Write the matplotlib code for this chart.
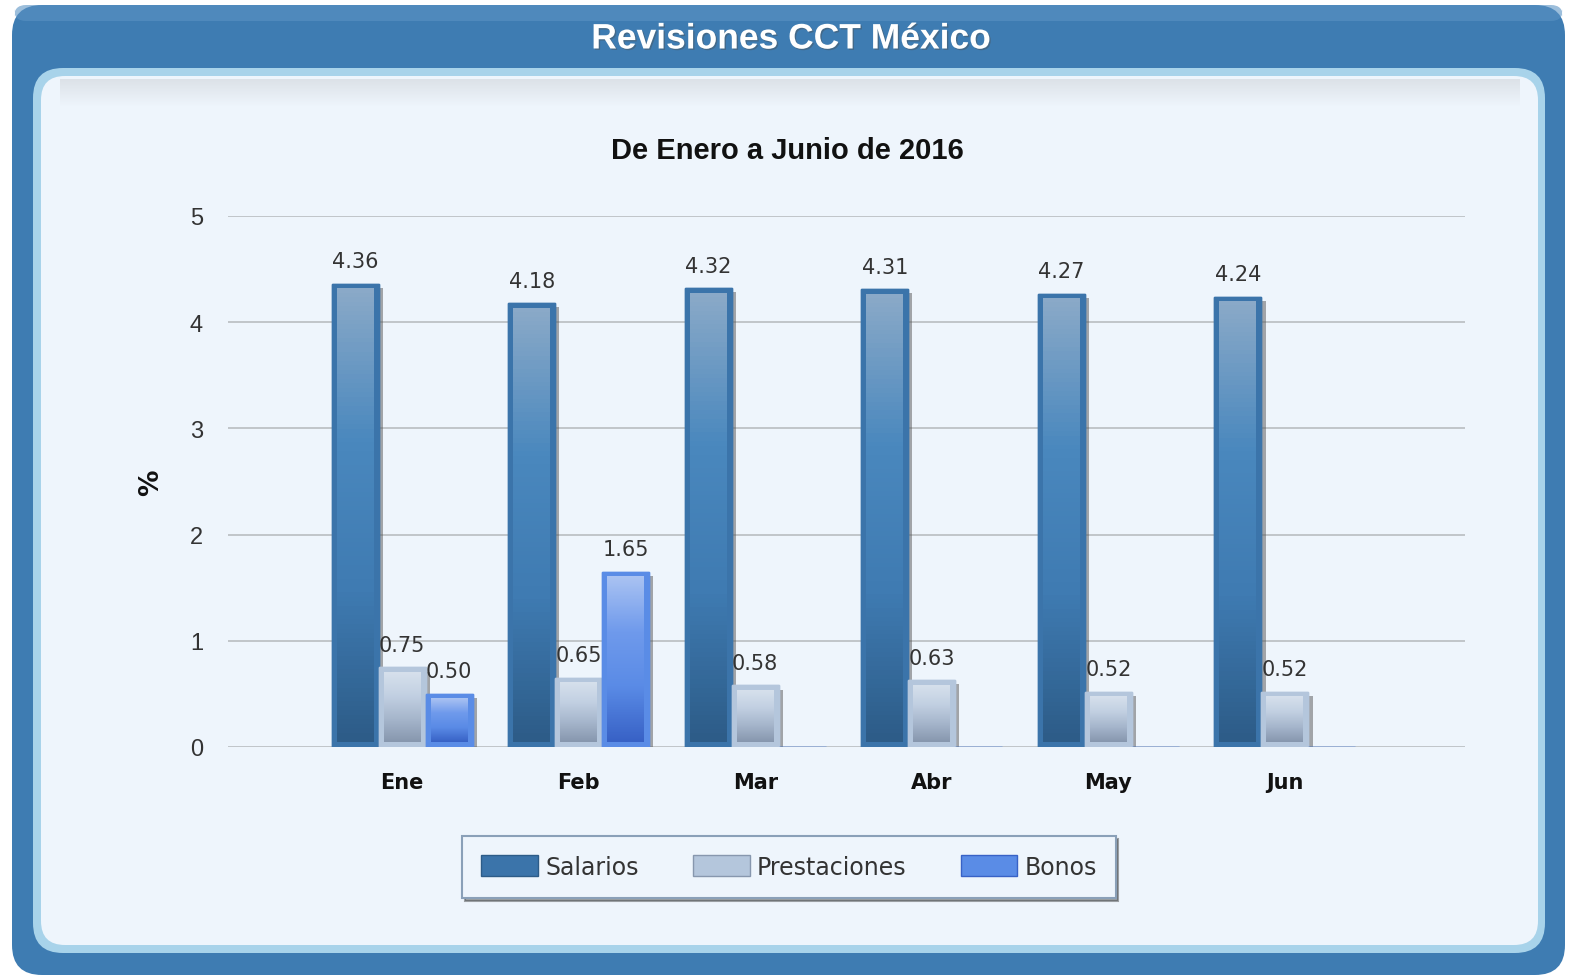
import numpy as np
import matplotlib
matplotlib.use('Agg')
import matplotlib.pyplot as plt
from matplotlib.patches import FancyBboxPatch, Patch
from matplotlib.colors import LinearSegmentedColormap
import matplotlib.patheffects as pe

# datos
meses = ['Ene', 'Feb', 'Mar', 'Abr', 'May', 'Jun']
salarios = [4.36, 4.18, 4.32, 4.31, 4.27, 4.24]
prestaciones = [0.75, 0.65, 0.58, 0.63, 0.52, 0.52]
bonos = [0.50, 1.65, 0, 0, 0, 0]
series = ['Salarios', 'Prestaciones', 'Bonos']

# colori: bordo, gradiente (basso -> alto)
bordi = ['#3b74aa', '#b4c6dc', '#5a8ce6']
grad = [['#2d5c88', '#3f7bb2', '#4a88be', '#8aa9c8'],
        ['#8797ae', '#a6b6cc', '#c2d0e2', '#d6e0ec'],
        ['#3862c6', '#5a8be6', '#6f9aec', '#a9c2f2']]

W, H = 1573, 978
fig = plt.figure(figsize=(W / 100, H / 100), dpi=100)

# cornice di sfondo in pixel
bg = fig.add_axes([0, 0, 1, 1])
bg.set_xlim(0, W)
bg.set_ylim(H, 0)
bg.axis('off')
bg.add_patch(FancyBboxPatch((12, 6), 1553, 970, boxstyle='round,pad=0,rounding_size=30',
                            fc='#3e7cb2', ec='none'))
bg.add_patch(FancyBboxPatch((14, 6), 1549, 16, boxstyle='round,pad=0,rounding_size=12',
                            fc='#5b93c4', ec='none', alpha=0.6))
bg.add_patch(FancyBboxPatch((33, 69), 1512, 885, boxstyle='round,pad=0,rounding_size=30',
                            fc='#a8d3ea', ec='none'))
bg.add_patch(FancyBboxPatch((41, 77), 1497, 869, boxstyle='round,pad=0,rounding_size=24',
                            fc='#eef5fc', ec='none'))
# ombra in alto del pannello
ombra = np.linspace(0.18, 0, 30).reshape(-1, 1)
bg.imshow(np.dstack([np.full_like(ombra, 0.55)] * 3 + [ombra]), extent=[60, 1520, 108, 80],
          aspect='auto', zorder=3)
bg.set_xlim(0, W)
bg.set_ylim(H, 0)
bg.text(791, 40, 'Revisiones CCT México', color='white', fontsize=25.5, fontweight='bold',
        family='Liberation Sans', ha='center', va='center',
        path_effects=[pe.withSimplePatchShadow(offset=(1, -1), alpha=0.4)])
bg.text(787, 151, 'De Enero a Junio de 2016', color='#111111', fontsize=21, fontweight='bold',
        family='Liberation Sans', ha='center', va='center')

ax = fig.add_axes([228 / W, 1 - 748 / H, 1237 / W, (748 - 217) / H])
ax.set_facecolor('none')
ax.set_xlim(-0.986, 6.02)
ax.set_ylim(0, 5)
for s in ax.spines.values():
    s.set_visible(False)
ax.set_yticks(range(6))
ax.grid(axis='y', color='#b9bdc1', lw=1.2)
ax.set_axisbelow(True)
ax.tick_params(axis='y', length=0, pad=18, labelsize=17, labelcolor='#333333')
ax.tick_params(axis='x', length=0, pad=18, labelsize=15)
ax.set_xticks(range(len(meses)))
ax.set_xticklabels(meses, fontweight='bold', color='#111111')
for t in ax.get_yticklabels():
    t.set_family('Liberation Sans')
ax.set_ylabel('%', fontsize=19, fontweight='bold', color='#111111')
ax.yaxis.set_label_coords(-0.052, 0.5)

x = np.arange(len(meses))
bw = 0.266
dx = 5 / 176.5
dy = 5 / 106.2
gy = np.linspace(0, 1, 100).reshape(-1, 1)

for k, vals in enumerate([salarios, prestaciones, bonos]):
    pos = x + (k - 1) * bw
    bars = ax.bar(pos, vals, width=bw, color=bordi[k], edgecolor=bordi[k], lw=1, zorder=3)
    for b in bars:
        b.set_path_effects([pe.withSimplePatchShadow(offset=(3, -3), shadow_rgbFace='#555555', alpha=0.5),
                            pe.Normal()])
    cm = LinearSegmentedColormap.from_list('g%d' % k, grad[k])
    for p, v in zip(pos, vals):
        if v <= 0:
            continue
        top = v - dy if v > 2 * dy else v * 0.8
        ax.imshow(gy, cmap=cm, origin='lower', aspect='auto', zorder=4,
                  extent=[p - bw / 2 + dx, p + bw / 2 - dx, dy, top])
        ax.annotate('%.2f' % v, (p, v), xytext=(0, 9), textcoords='offset points',
                    ha='center', va='bottom', fontsize=15, color='#333333', zorder=6)

ax.set_xlim(-0.986, 6.02)
ax.set_ylim(0, 5)

handles = [Patch(fc=bordi[k], ec=grad[k][0], lw=1) for k in range(3)]
leg = fig.legend(handles, series, loc='center', bbox_to_anchor=(789 / W, 1 - 868 / H), ncol=3,
                 fontsize=17, frameon=True, fancybox=False, shadow=True, handlelength=2.4,
                 handleheight=1.0, handletextpad=0.3, columnspacing=2.3, borderpad=0.8,
                 borderaxespad=0)
leg.get_frame().set_facecolor('#eef5fc')
leg.get_frame().set_edgecolor('#8aa0b8')
leg.get_frame().set_linewidth(1.5)
for t in leg.get_texts():
    t.set_color('#333333')

fig.savefig('out.png', dpi=100)
